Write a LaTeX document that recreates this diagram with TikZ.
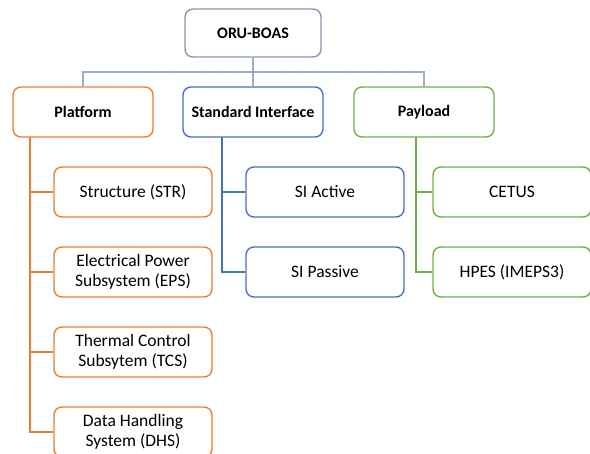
\documentclass[tikz,border=0pt]{standalone}
\usepackage{fontspec}
\setmainfont{Carlito}
\definecolor{orgc}{HTML}{ED7D31}
\definecolor{bluc}{HTML}{4472C4}
\definecolor{grnc}{HTML}{70AD47}
\definecolor{topc}{HTML}{8497B0}
\definecolor{busc}{HTML}{9DAFC6}
\begin{document}
\begin{tikzpicture}[x=1pt,y=-1pt,
  box/.style={draw, line width=1.4pt, rounded corners=8pt, fill=white,
    minimum height=50pt, align=center, font=\fontsize{17.5}{20}\selectfont, inner sep=2pt},
  head/.style={box, font=\fontsize{16}{19}\selectfont\bfseries, minimum width=140pt},
  child/.style={box, minimum width=158pt},
  wire/.style={line width=1.4pt}]
\useasboundingbox (0,0) rectangle (590,454);
\clip (0,0) rectangle (590,454);
% top level
\node[head, draw=topc, minimum width=136pt, minimum height=48pt] (root) at (253,33) {ORU-BOAS};
\node[head, draw=orgc] (plat) at (83,112) {Platform};
\node[head, draw=bluc] (si) at (253,112) {Standard Interface};
\node[head, draw=grnc] (pay) at (424,112) {Payload};
% bus from root to the three branches
\coordinate (bus) at (253,72);
\draw[wire, busc] (root.south) -- (bus);
\draw[wire, busc] (plat.north) |- (bus) -| (pay.north);
\draw[wire, busc] (bus) -- (si.north);
% platform branch
\node[child, draw=orgc] (str) at (133,192) {Structure (STR)};
\node[child, draw=orgc] (eps) at (133,272) {Electrical Power\\Subsystem (EPS)};
\node[child, draw=orgc] (tcs) at (133,352) {Thermal Control\\Subsytem (TCS)};
\node[child, draw=orgc] (dhs) at (133,432) {Data Handling\\System (DHS)};
\coordinate (pt) at (30,137);
\draw[wire, orgc] (pt) |- (dhs.west);
\foreach \n in {str,eps,tcs} \draw[wire, orgc] (pt |- \n.west) -- (\n.west);
% standard interface branch
\node[child, draw=bluc] (sia) at (325,192) {SI Active};
\node[child, draw=bluc] (sip) at (325,272) {SI Passive};
\coordinate (st) at (222,137);
\draw[wire, bluc] (st) |- (sip.west);
\draw[wire, bluc] (st |- sia.west) -- (sia.west);
% payload branch
\node[child, draw=grnc] (cet) at (512,192) {CETUS};
\node[child, draw=grnc] (hpe) at (512,272) {HPES (IMEPS3)};
\coordinate (yt) at (416,137);
\draw[wire, grnc] (yt) |- (hpe.west);
\draw[wire, grnc] (yt |- cet.west) -- (cet.west);
\end{tikzpicture}
\end{document}
